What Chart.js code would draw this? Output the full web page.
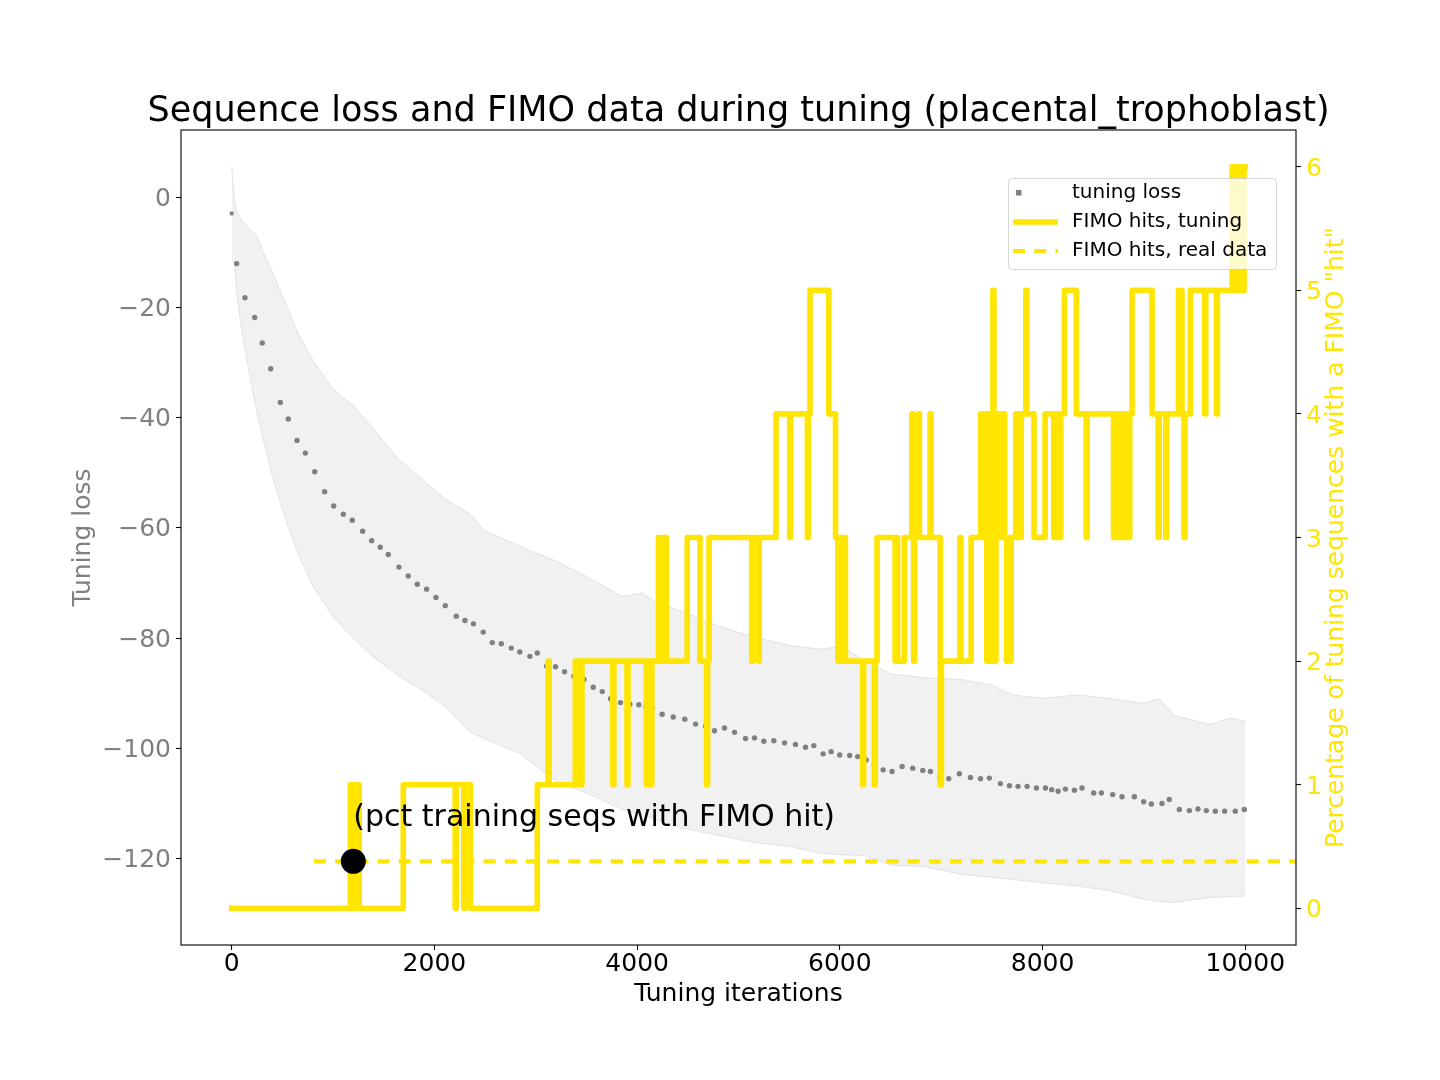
<!DOCTYPE html>
<html>
<head>
<meta charset="utf-8">
<title>Sequence loss and FIMO data during tuning</title>
<script src="https://cdn.jsdelivr.net/npm/chart.js@4.4.0/dist/chart.umd.min.js"></script>
<style>
  html, body { margin: 0; padding: 0; background: #fff; }
  #wrap { width: 1440px; height: 1080px; }
</style>
</head>
<body>
<div id="wrap"><canvas id="tuningChart" width="1440" height="1080"></canvas></div>
<script>
/* ====== DATA ====== */

// mean tuning loss, one dot per logged step
const lossIters = [0, 49, 131, 227, 302, 385, 480, 559, 644, 727, 819, 917, 1006, 1101, 1190, 1292, 1381, 1466,
  1545, 1650, 1742, 1831, 1923, 2015, 2107, 2216, 2301, 2385, 2482, 2571, 2660, 2758, 2843, 2942, 3015, 3107,
  3195, 3284, 3376, 3475, 3567, 3656, 3738, 3836, 3928, 4017, 4085, 4149, 4247, 4356, 4470, 4576, 4675, 4763,
  4862, 4961, 5069, 5158, 5250, 5348, 5454, 5562, 5661, 5743, 5835, 5914, 5999, 6097, 6176, 6260, 6340, 6427,
  6515, 6614, 6719, 6818, 6893, 6985, 7074, 7179, 7288, 7387, 7475, 7584, 7673, 7758, 7847, 7939, 8028, 8090,
  8153, 8225, 8314, 8389, 8504, 8580, 8691, 8784, 8905, 8997, 9073, 9178, 9250, 9349, 9448, 9533, 9615, 9704,
  9796, 9901, 9990];
const lossMean = [-2.9, -12.0, -18.2, -21.8, -26.4, -31.1, -37.2, -40.2, -44.1, -46.4, -49.8, -53.4, -56.0, -57.5,
  -58.6, -60.6, -62.3, -63.5, -64.8, -67.1, -68.7, -70.2, -71.1, -72.6, -74.1, -76.0, -76.8, -77.4, -78.9, -80.8,
  -81.0, -81.8, -82.5, -83.3, -82.7, -85.1, -85.2, -86.1, -86.9, -87.5, -88.9, -89.7, -91.0, -91.7, -92.0, -92.1,
  -92.5, -92.8, -93.8, -94.3, -94.7, -95.6, -96.0, -96.8, -96.3, -97.1, -98.2, -98.1, -98.7, -98.6, -99.0, -99.3,
  -99.8, -99.5, -101.0, -100.6, -101.2, -101.3, -101.5, -102.1, -103.0, -103.9, -104.2, -103.3, -103.6, -104.0,
  -104.2, -105.1, -105.5, -104.6, -105.3, -105.5, -105.4, -106.4, -106.8, -106.9, -106.9, -107.2, -107.2, -107.5,
  -107.8, -107.4, -107.6, -107.2, -108.1, -108.1, -108.4, -108.8, -108.8, -109.7, -110.1, -110.0, -109.3, -111.1,
  -111.3, -111.0, -111.3, -111.4, -111.4, -111.4, -111.1];

// shaded spread of the loss
const bandIters = [0, 25, 50, 100, 150, 200, 250, 300, 400, 500, 650, 800, 1000, 1200, 1400, 1650, 1900, 2100,
  2350, 2500, 2850, 3200, 3500, 3850, 4050, 4200, 4500, 4800, 5150, 5500, 5800, 6000, 6250, 6500, 6850, 7200,
  7500, 7700, 8000, 8350, 8650, 9000, 9150, 9300, 9650, 9850, 10000];
const bandUpper = [5.5, 0.0, -2.5, -4.2, -5.2, -6.2, -7.0, -9.5, -13.5, -17.9, -24.5, -29.5, -34.8, -37.8, -42.0,
  -47.6, -51.5, -54.6, -57.5, -60.5, -63.4, -66.0, -68.8, -72.4, -71.8, -73.6, -75.5, -77.8, -79.8, -81.3, -82.0,
  -81.5, -84.0, -86.5, -87.2, -87.5, -88.5, -90.3, -90.9, -90.3, -90.9, -91.8, -91.0, -94.0, -95.7, -94.5, -95.1];
const bandLower = [-11.5, -11.5, -17.5, -24.3, -29.5, -34.5, -39.0, -43.0, -50.5, -56.7, -64.5, -70.5, -76.1,
  -80.0, -83.4, -86.9, -89.7, -92.3, -97.0, -98.3, -101.0, -106.0, -108.1, -111.1, -112.0, -113.1, -114.7, -115.8,
  -117.1, -117.8, -119.0, -119.3, -119.5, -121.2, -121.5, -122.9, -123.4, -123.8, -124.4, -125.0, -125.8, -127.4,
  -127.8, -128.0, -127.1, -126.9, -126.8];

// FIMO hits (%) during tuning: change points, each value holds until the next one
const fimoIters = [0,
  1170, 1180, 1195, 1205, 1220, 1230, 1245, 1258,
  1693, 2205, 2215, 2290, 2300, 2355,
  3015, 3122, 3132, 3390, 3400, 3420, 3430, 3455,
  3760, 3770, 3900, 3910, 4090, 4100, 4135, 4145,
  4210, 4222, 4240, 4252, 4268, 4288,
  4494, 4620, 4685, 4695, 4710,
  5130, 5140, 5195, 5205, 5370, 5505, 5515, 5680, 5690, 5705,
  5891, 5957, 5980, 5995, 6015, 6030, 6055,
  6225, 6235, 6340, 6350, 6367,
  6545, 6555, 6570, 6635, 6710, 6720, 6728, 6738, 6775, 6785, 6890, 6900,
  6990, 7002, 7185, 7195, 7295,
  7390, 7405, 7440, 7450, 7465, 7475, 7490, 7500, 7510, 7520, 7530, 7540, 7560, 7575, 7590, 7605, 7625, 7645,
  7655, 7680, 7690,
  7735, 7745, 7760, 7775, 7790, 7835, 7845, 7915, 8025,
  8110, 8120, 8140, 8150, 8170, 8180, 8215, 8333, 8430, 8440,
  8700, 8715, 8735, 8750, 8770, 8785, 8805, 8820, 8840, 8860, 8883,
  9080, 9140, 9150, 9215, 9225, 9340, 9350, 9365, 9375, 9395, 9405, 9458,
  9600, 9610, 9715, 9725,
  9870, 9885, 9900, 9915, 9930, 9945, 9960, 9975, 9988, 10000];
const fimoHits = [0,
  1, 0, 1, 0, 1, 0, 1, 0,
  1, 0, 1, 0, 1, 0,
  1, 2, 1, 2, 1, 2, 1, 2,
  1, 2, 1, 2, 1, 2, 1, 2,
  3, 2, 3, 2, 3, 2,
  3, 2, 1, 2, 3,
  2, 3, 2, 3, 4, 3, 4, 3, 4, 5,
  4, 3, 2, 3, 2, 3, 2,
  1, 2, 1, 2, 3,
  2, 3, 2, 3, 4, 3, 2, 3, 4, 3, 4, 3,
  1, 2, 3, 2, 3,
  4, 3, 4, 2, 4, 2, 4, 2, 5, 4, 2, 4, 3, 4, 3, 4, 3, 2,
  3, 2, 3,
  4, 3, 4, 3, 4, 5, 4, 3, 4,
  3, 4, 3, 4, 3, 4, 5, 4, 3, 4,
  3, 4, 3, 4, 3, 4, 3, 4, 3, 4, 5,
  4, 3, 4, 3, 4, 5, 4, 5, 4, 3, 4, 5,
  4, 5, 4, 5,
  6, 5, 6, 5, 6, 5, 6, 5, 6, 6];

// FIMO hits in the real (training) data
const realIters = [812, 10500];
const realHits = [0.38, 0.38];

// marker + note for the real-data level
const markerIter = 1200;
const markerHits = 0.38;
const noteIter = 1200;
const noteHits = 0.665;
const noteText = '(pct training seqs with FIMO hit)';

const xTicks = [0, 2000, 4000, 6000, 8000, 10000];
const lossTicks = [0, -20, -40, -60, -80, -100, -120];
const hitTicks = [0, 1, 2, 3, 4, 5, 6];

/* ====== STYLE ====== */
const FONT = '"DejaVu Sans", "Liberation Sans", sans-serif';
const YELLOW = '#ffe500';
const GRAY = '#808080';
const BAND = 'rgba(211, 211, 211, 0.32)';

const pts = (xs, ys) => xs.map((x, i) => ({ x: x, y: ys[i] }));
const minus = v => (v < 0 ? '\u2212' + Math.abs(v) : String(v));

function roundRectPath(ctx, x, y, w, h, r) {
  ctx.beginPath();
  ctx.moveTo(x + r, y);
  ctx.lineTo(x + w - r, y);
  ctx.arcTo(x + w, y, x + w, y + r, r);
  ctx.lineTo(x + w, y + h - r);
  ctx.arcTo(x + w, y + h, x + w - r, y + h, r);
  ctx.lineTo(x + r, y + h);
  ctx.arcTo(x, y + h, x, y + h - r, r);
  ctx.lineTo(x, y + r);
  ctx.arcTo(x, y, x + r, y, r);
  ctx.closePath();
}

// titles, note, frame and legend drawn by hand (matplotlib-like layout)
const figureText = {
  id: 'figureText',
  afterDraw(chart) {
    const { ctx, chartArea: a, scales } = chart;
    const cx = (a.left + a.right) / 2;
    const cy = (a.top + a.bottom) / 2;
    ctx.save();

    // frame
    ctx.strokeStyle = '#000';
    ctx.lineWidth = 1.1;
    ctx.strokeRect(a.left, a.top, a.right - a.left, a.bottom - a.top);

    ctx.textBaseline = 'alphabetic';
    ctx.textAlign = 'center';
    ctx.fillStyle = '#000';
    ctx.font = '35px ' + FONT;
    ctx.fillText('Sequence loss and FIMO data during tuning (placental_trophoblast)', cx, 121);

    ctx.font = '25px ' + FONT;
    ctx.fillText('Tuning iterations', cx, 1001);

    ctx.save();
    ctx.translate(90, cy);
    ctx.rotate(-Math.PI / 2);
    ctx.fillStyle = GRAY;
    ctx.fillText('Tuning loss', 0, 0);
    ctx.restore();

    ctx.save();
    ctx.translate(1343, cy);
    ctx.rotate(-Math.PI / 2);
    ctx.fillStyle = YELLOW;
    ctx.fillText('Percentage of tuning sequences with a FIMO "hit"', 0, 0);
    ctx.restore();

    // note next to the marker
    ctx.textAlign = 'left';
    ctx.fillStyle = '#000';
    ctx.font = '30px ' + FONT;
    ctx.fillText(noteText, scales.x.getPixelForValue(noteIter), scales.y2.getPixelForValue(noteHits));

    // legend
    roundRectPath(ctx, 1008.5, 178.5, 268, 91, 4);
    ctx.fillStyle = 'rgba(255,255,255,0.8)';
    ctx.fill();
    ctx.strokeStyle = 'rgba(204,204,204,0.8)';
    ctx.lineWidth = 1;
    ctx.stroke();

    const rows = [193, 222, 251];
    ctx.fillStyle = GRAY;
    ctx.fillRect(1016, rows[0] - 3, 5.5, 5.5);

    ctx.strokeStyle = YELLOW;
    ctx.lineCap = 'butt';
    ctx.lineWidth = 5.6;
    ctx.beginPath();
    ctx.moveTo(1013, rows[1]);
    ctx.lineTo(1058, rows[1]);
    ctx.stroke();

    ctx.lineWidth = 4.2;
    ctx.setLineDash([12, 9.2]);
    ctx.beginPath();
    ctx.moveTo(1013, rows[2]);
    ctx.lineTo(1058, rows[2]);
    ctx.stroke();
    ctx.setLineDash([]);

    ctx.fillStyle = '#000';
    ctx.font = '20px ' + FONT;
    ctx.textBaseline = 'middle';
    ctx.fillText('tuning loss', 1072, rows[0]);
    ctx.fillText('FIMO hits, tuning', 1072, rows[1]);
    ctx.fillText('FIMO hits, real data', 1072, rows[2]);

    ctx.restore();
  }
};

/* ====== CHART ====== */
document.addEventListener('DOMContentLoaded', () => {
  const ctx = document.getElementById('tuningChart');

  new Chart(ctx, {
    type: 'line',
    data: {
      datasets: [
        { // black marker at the real-data level
          label: 'marker',
          data: [{ x: markerIter, y: markerHits }],
          yAxisID: 'y2',
          showLine: false,
          pointRadius: 12.5,
          pointBackgroundColor: '#000',
          pointBorderWidth: 0
        },
        {
          label: 'FIMO hits, tuning',
          data: pts(fimoIters, fimoHits),
          yAxisID: 'y2',
          stepped: true,
          borderColor: YELLOW,
          borderWidth: 5.6,
          borderCapStyle: 'square',
          borderJoinStyle: 'round',
          pointRadius: 0,
          fill: false
        },
        {
          label: 'FIMO hits, real data',
          data: pts(realIters, realHits),
          yAxisID: 'y2',
          borderColor: YELLOW,
          borderWidth: 4.2,
          borderDash: [12, 9.2],
          pointRadius: 0,
          fill: false
        },
        {
          label: 'tuning loss',
          data: pts(lossIters, lossMean),
          yAxisID: 'y',
          showLine: false,
          pointRadius: 2.7,
          pointStyle: c => (c.dataIndex === 0 ? 'rect' : 'circle'),
          pointBackgroundColor: GRAY,
          pointBorderWidth: 0
        },
        {
          label: 'band upper',
          data: pts(bandIters, bandUpper),
          yAxisID: 'y',
          borderColor: 'rgba(200,200,200,0.45)',
          borderWidth: 1,
          backgroundColor: BAND,
          pointRadius: 0,
          fill: '+1'
        },
        {
          label: 'band lower',
          data: pts(bandIters, bandLower),
          yAxisID: 'y',
          borderColor: 'rgba(200,200,200,0.45)',
          borderWidth: 1,
          pointRadius: 0,
          fill: false
        }
      ]
    },
    options: {
      responsive: false,
      animation: false,
      devicePixelRatio: 1,
      layout: { padding: { top: 130, left: 0, right: 0, bottom: 0 } },
      plugins: {
        legend: { display: false },
        tooltip: { enabled: false },
        title: { display: false }
      },
      scales: {
        x: {
          type: 'linear',
          position: 'bottom',
          min: -500,
          max: 10500,
          afterBuildTicks: s => { s.ticks = xTicks.map(v => ({ value: v })); },
          afterFit: s => { s.height = 135; },
          grid: { drawOnChartArea: false, drawTicks: true, tickLength: 5, tickColor: '#000', tickWidth: 1.1 },
          border: { display: false },
          ticks: {
            color: '#000', maxRotation: 0, padding: 2,
            font: { family: FONT, size: 25, lineHeight: 1 },
            callback: v => String(v)
          }
        },
        y: {
          type: 'linear',
          position: 'left',
          min: -135.7,
          max: 12.25,
          afterBuildTicks: s => { s.ticks = lossTicks.map(v => ({ value: v })); },
          afterFit: s => { s.width = 181; },
          grid: { drawOnChartArea: false, drawTicks: true, tickLength: 5, tickColor: '#000', tickWidth: 1.1 },
          border: { display: false },
          ticks: {
            color: GRAY, padding: 5, labelOffset: 2,
            font: { family: FONT, size: 25 },
            callback: v => minus(v)
          }
        },
        y2: {
          type: 'linear',
          position: 'right',
          min: -0.297,
          max: 6.297,
          afterBuildTicks: s => { s.ticks = hitTicks.map(v => ({ value: v })); },
          afterFit: s => { s.width = 144; },
          grid: { drawOnChartArea: false, drawTicks: true, tickLength: 5, tickColor: '#000', tickWidth: 1.1 },
          border: { display: false },
          ticks: {
            color: YELLOW, padding: 5, labelOffset: 2.5,
            font: { family: FONT, size: 25 },
            callback: v => String(v)
          }
        }
      }
    },
    plugins: [figureText]
  });
});
</script>
</body>
</html>
